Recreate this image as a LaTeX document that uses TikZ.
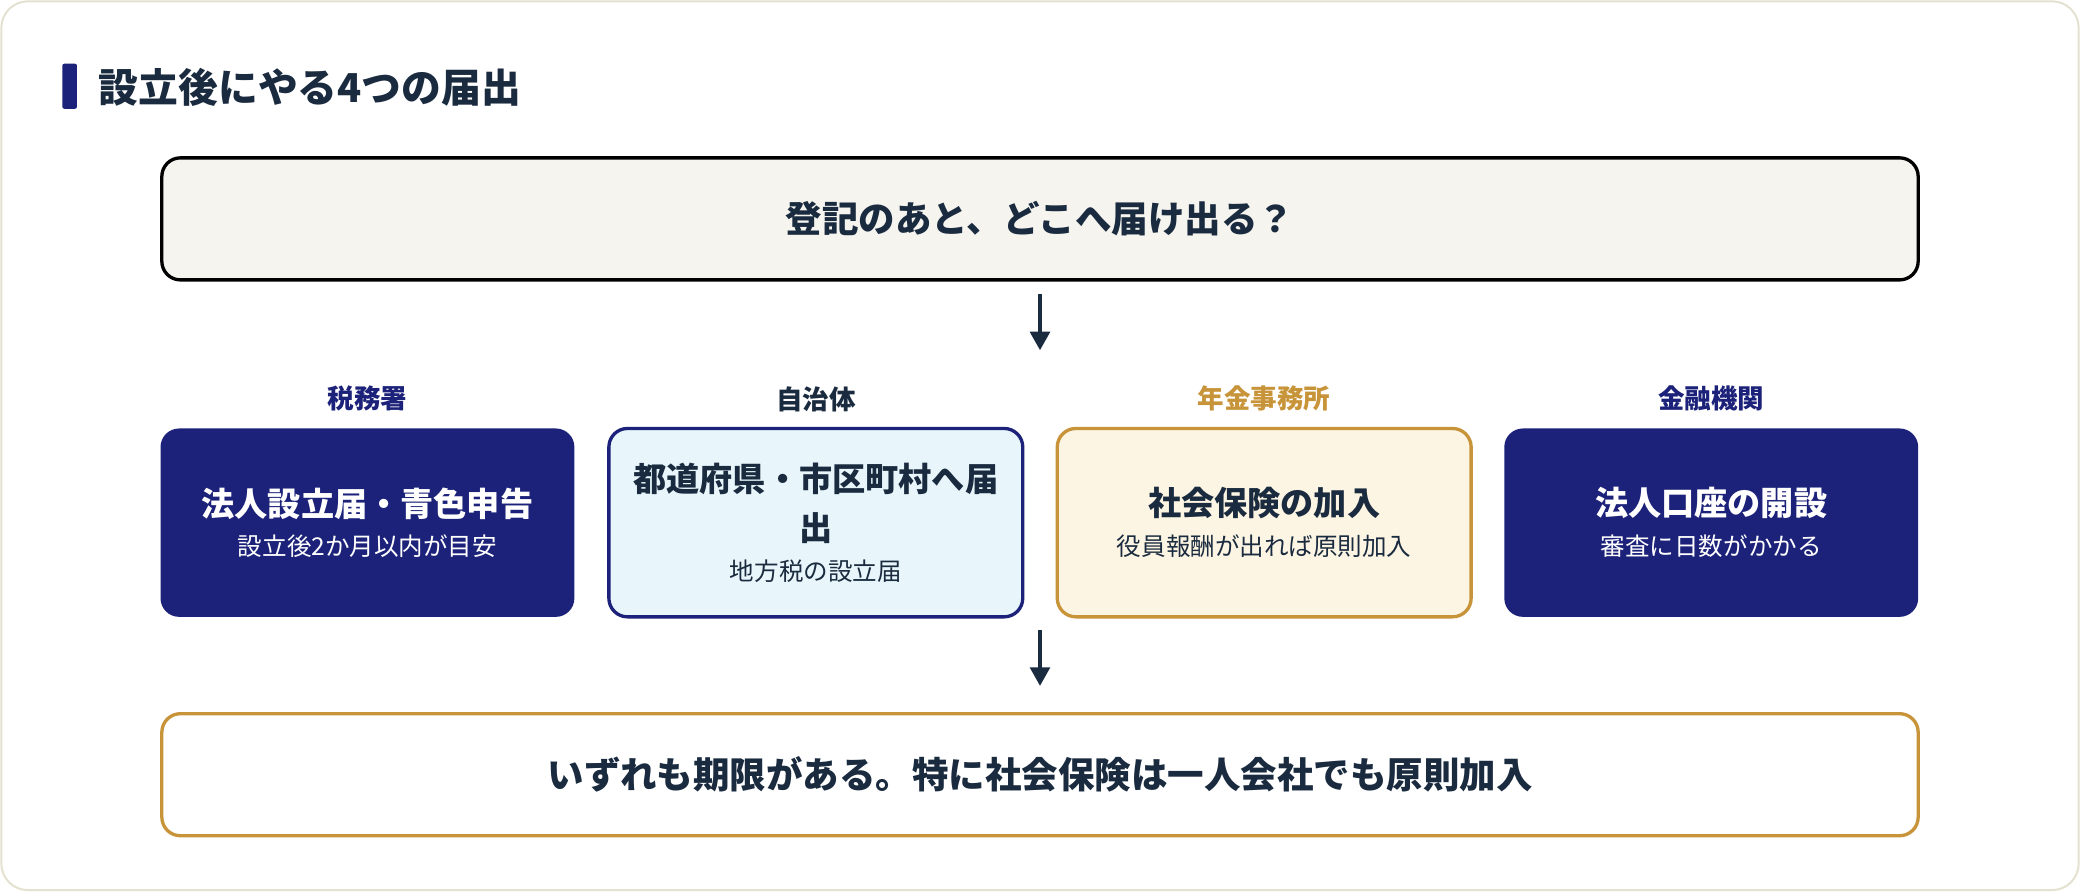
\documentclass[tikz,border=0pt]{standalone}
\usepackage{fontspec}
\setmainfont{Noto Sans CJK JP}
\usepackage{tikz}
\usetikzlibrary{arrows.meta,positioning}
\definecolor{ink}{HTML}{1A2B3F}
\definecolor{navy}{HTML}{1C2279}
\definecolor{gold}{HTML}{C8943A}
\definecolor{paper}{HTML}{F5F4EF}
\definecolor{sky}{HTML}{E8F6FB}
\definecolor{cream}{HTML}{FDF5E3}
\definecolor{edge}{HTML}{E4E1D0}
\tikzset{
  wide/.style={draw, line width=2.5pt, rounded corners=14pt, minimum width=1324pt, minimum height=92pt, font=\fontsize{27.5}{32}\selectfont\bfseries, text=ink},
  card/.style={line width=2.5pt, rounded corners=14pt, minimum width=312pt, minimum height=142pt, align=center, font=\fontsize{25}{33}\selectfont},
  head/.style={font=\fontsize{20}{24}\selectfont\bfseries},
  arr/.style={ink, line width=2.5pt, -{Triangle[length=14pt,width=15pt]}},
}
\newcommand{\mainline}[1]{{\bfseries #1}}
\newcommand{\subline}[1]{{\fontsize{18.5}{22}\selectfont #1}}
\begin{document}
\begin{tikzpicture}[x=1pt,y=-1pt]
\useasboundingbox (0,0) rectangle (1568,672);
\draw[edge, fill=white, line width=1.5pt, rounded corners=20pt] (1,1) rectangle (1567,671);
% title
\fill[navy, rounded corners=1.5pt] (47,48) rectangle (58,82);
\node[anchor=west, text=ink, font=\fontsize{30}{34}\selectfont\bfseries] (title) at (71,66) {設立後にやる4つの届出};
% question
\node[wide, fill=paper] (top) at (784,165) {登記のあと、どこへ届け出る？};
\coordinate (a1) at (784,222);
\coordinate (b1) at (784,264);
\draw[arr] (a1) -- (b1);
% four cards
\node[card, fill=navy, text=white] (tax) at (277,394) {\mainline{法人設立届・青色申告}\\[-3pt]\subline{設立後2か月以内が目安}};
\node[card, draw=navy, fill=sky, text=ink] (city) at (615,394) {\mainline{都道府県・市区町村へ届}\\[4pt]\mainline{出}\\[-3pt]\subline{地方税の設立届}};
\node[card, draw=gold, fill=cream, text=ink] (pension) at (953,394) {\mainline{社会保険の加入}\\[-3pt]\subline{役員報酬が出れば原則加入}};
\node[card, fill=navy, text=white] (bank) at (1290,394) {\mainline{法人口座の開設}\\[-3pt]\subline{審査に日数がかかる}};
\node[head, text=navy, above=8pt of tax] (taxh) {税務署};
\node[head, text=ink, above=8pt of city] (cityh) {自治体};
\node[head, text=gold, above=8pt of pension] (pensionh) {年金事務所};
\node[head, text=navy, above=8pt of bank] (bankh) {金融機関};
% result
\coordinate (a2) at (784,475);
\coordinate (b2) at (784,517);
\draw[arr] (a2) -- (b2);
\node[wide, draw=gold, fill=white] (end) at (784,584) {いずれも期限がある。特に社会保険は一人会社でも原則加入};
\end{tikzpicture}
\end{document}
